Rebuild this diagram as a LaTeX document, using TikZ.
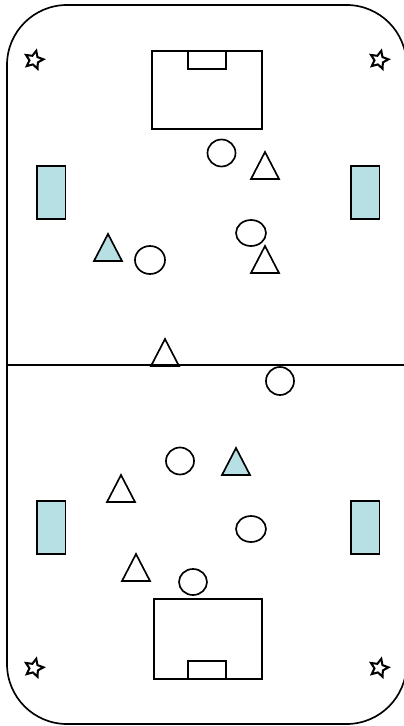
\documentclass[tikz,border=0pt]{standalone}
\usepackage{tikz}
\usetikzlibrary{shapes, positioning, arrows.meta}
\definecolor{boardteal}{HTML}{B7E0E4}
\tikzset{
    pitchline/.style={line width=0.95pt},
    cornerstar/.style={draw, star, star points=5, star point ratio=2.1, inner sep=0pt,
        minimum size=0.38cm, line width=1.15pt, shape border rotate=-14},
}

\begin{document}
\begin{tikzpicture}[x=0.02cm, y=-0.02cm]
    \useasboundingbox (0,0) rectangle (404,726);
    \clip (0,0) rectangle (404,726);
    % Pitch outline and halfway line
    \draw[pitchline, rounded corners=1.2cm] (7,5) rectangle (406.5,724);
    \coordinate (halfL) at (7,365);
    \coordinate (halfR) at (404,365);
    \draw[pitchline] (halfL) -- (halfR);
    % Goal areas
    \draw[pitchline] (152,51) rectangle (262,129);
    \draw[pitchline] (188,51) rectangle (226,69);
    \draw[pitchline] (154,599) rectangle (262,679);
    \draw[pitchline] (188,661) rectangle (226,679);
    % Side boards
    \foreach \x/\y in {37/166, 351/166, 37/501, 351/501} {
        \draw[pitchline, fill=boardteal] (\x,\y) rectangle ++(28.5,53);
    }
    % Players, circles
    \foreach \x/\y/\rx/\ry in {221.5/153/14/13.5, 251/233/15/13, 150/260/15/14, 280/381/14/14,
                               180/461/14/13.5, 251/529/15/13, 193/582/14/13} {
        \draw[pitchline] (\x,\y) ellipse ({\rx*0.02cm} and {\ry*0.02cm});
    }
    % Players, triangles (x of apex, y of base)
    \foreach \x/\y in {265/179, 265/273, 165/366, 121/502, 136/581} {
        \draw[pitchline] (\x,\y-27) -- (\x+14,\y) -- (\x-14,\y) -- cycle;
    }
    \foreach \x/\y in {108/261, 236/475} {
        \draw[pitchline, fill=boardteal] (\x,\y-27) -- (\x+14,\y) -- (\x-14,\y) -- cycle;
    }
    \draw[line width=1.4pt] (151,366) -- (179,366);
    % Corner stars
    \node[cornerstar] (starTL) at (34,60) {};
    \node[cornerstar] (starTR) at (379,60) {};
    \node[cornerstar] (starBL) at (34,668) {};
    \node[cornerstar] (starBR) at (379,668) {};
\end{tikzpicture}
\end{document}
